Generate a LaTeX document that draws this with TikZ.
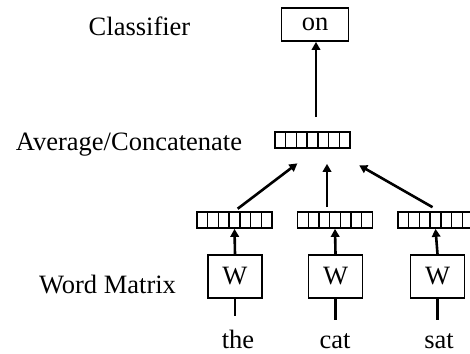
\documentclass[tikz,border=0pt]{standalone}
\usepackage{fontspec}
\setmainfont{Liberation Serif}
\usetikzlibrary{arrows.meta,calc}
\begin{document}
\begin{tikzpicture}[x=1pt,y=-1pt,
  every node/.style={font=\fontsize{26.5}{30}\selectfont, text=black},
  label/.style={inner sep=0pt, anchor=base},
  box/.style={draw, line width=1.8pt, inner sep=0pt},
  vec/.style={draw, line width=1.7pt, minimum width=75pt, minimum height=16pt, inner sep=0pt,
    path picture={
      \foreach \k in {1,...,6}
        \draw[line width=1.4pt] ($(path picture bounding box.south west)!\k/7!(path picture bounding box.south east)$)
          -- ($(path picture bounding box.north west)!\k/7!(path picture bounding box.north east)$);
    }},
  arr/.style={line width=2.6pt, -{Triangle[length=8pt,width=8.5pt]}},
  stem/.style={line width=2.6pt}
]
\useasboundingbox (0,0) rectangle (470,353);
\clip (0,0) rectangle (470,353);

% row labels
\node[label] (cls) at (139.5,35) {Classifier};
\node[label] (avgl) at (129,150) {Average/Concatenate};
\node[label] (wml) at (107.5,293) {Word Matrix};

% classifier output
\node[box, minimum width=67pt, minimum height=33pt] (on) at (315,24.5) {on};

% pooled vector
\node[vec] (avg) at (312.5,140) {};

% word vectors
\node[vec] (v1) at (234.5,220) {};
\node[vec] (v2) at (335,220) {};
\node[vec] (v3) at (435.5,220) {};

% embedding matrices
\node[box, minimum width=54pt, minimum height=43pt] (w1) at (235,276.5) {W};
\node[box, minimum width=54pt, minimum height=43pt] (w2) at (335.5,276.5) {W};
\node[box, minimum width=54pt, minimum height=43pt] (w3) at (437.5,276.5) {W};

% input words
\node[label] (the) at (238,348) {the};
\node[label] (cat) at (335,348) {cat};
\node[label] (sat) at (439,348) {sat};

% word -> matrix
\draw[stem, shorten >=13pt] (w1.south) -- (w1.south |- the.north);
\draw[stem, shorten >=13pt] (w2.south) -- (w2.south |- cat.north);
\draw[stem, shorten >=13pt] (w3.south) -- (w3.south |- sat.north);

% matrix -> word vector
\draw[arr] (w1.north) -- (v1.south);
\draw[arr] (w2.north) -- (v2.south);
\draw[arr] (w3.north) -- (v3.south);

% word vectors -> pooled vector
\draw[arr, shorten <=4pt, shorten >=24pt] (v1.north) -- ([xshift=4pt]avg.south);
\draw[arr, shorten <=4pt, shorten >=15pt] ([xshift=-8pt]v2.north) -- ([xshift=14.5pt]avg.south);
\draw[arr, shorten <=8pt, shorten >=33pt] ([xshift=4pt]v3.north) -- ([xshift=18pt]avg.south);

% pooled vector -> classifier
\draw[arr, shorten <=14pt] ([xshift=3.5pt]avg.north) -- ([xshift=3.5pt]avg.north |- on.south);
\end{tikzpicture}
\end{document}
